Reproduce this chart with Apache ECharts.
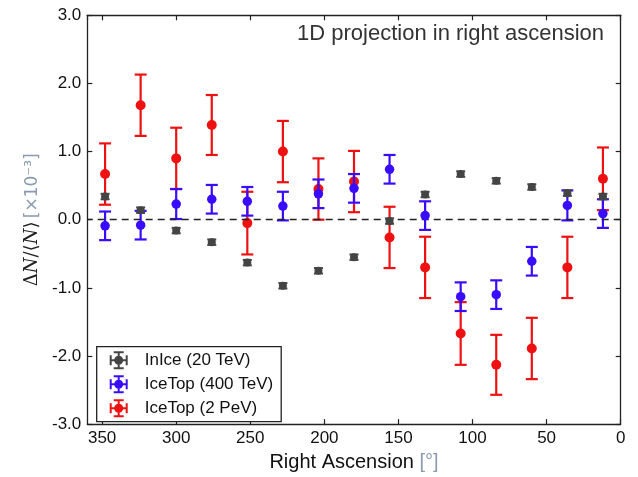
<!DOCTYPE html>
<html>
<head>
<meta charset="utf-8">
<script src="https://cdn.jsdelivr.net/npm/echarts@6/dist/echarts.min.js"></script>
<style>html,body{margin:0;padding:0;background:#fff}#c{width:638px;height:477px}</style>
</head>
<body>
<div id="c"></div>
<script>
// Right ascension bin centres (degrees)
const ra = [348, 324, 300, 276, 252, 228, 204, 180, 156, 132, 108, 84, 60, 36, 12];
// InIce (20 TeV)
const inIceVal = [0.34, 0.14, -0.16, -0.33, -0.63, -0.97, -0.75, -0.55, -0.02, 0.37, 0.67, 0.57, 0.48, 0.39, 0.34];
const inIceErr = [0.04, 0.04, 0.04, 0.04, 0.04, 0.04, 0.04, 0.04, 0.04, 0.04, 0.04, 0.04, 0.04, 0.04, 0.04];
// IceTop (400 TeV)
const it400Val = [-0.09, -0.08, 0.23, 0.30, 0.27, 0.20, 0.38, 0.46, 0.74, 0.06, -1.13, -1.10, -0.61, 0.21, 0.09];
const it400Err = [0.21, 0.21, 0.22, 0.21, 0.21, 0.21, 0.21, 0.21, 0.21, 0.21, 0.21, 0.21, 0.21, 0.22, 0.21];
// IceTop (2 PeV)
const it2Val = [0.67, 1.68, 0.90, 1.39, -0.05, 1.00, 0.45, 0.56, -0.26, -0.70, -1.67, -2.13, -1.89, -0.70, 0.60];
const it2Err = [0.45, 0.45, 0.45, 0.44, 0.46, 0.45, 0.45, 0.45, 0.45, 0.45, 0.46, 0.44, 0.45, 0.45, 0.46];
// Axis ticks
const xTicks = [0, 50, 100, 150, 200, 250, 300, 350];
const yTicks = [-3, -2, -1, 0, 1, 2, 3];

const names = ['InIce (20 TeV)', 'IceTop (400 TeV)', 'IceTop (2 PeV)'];
const colors = ['#444444', '#3a0cff', '#ee1111'];

function rows(vals, errs) { return ra.map((r, i) => [r, vals[i], errs[i]]); }

function errRender(color, capHalf, lw) {
  return function (params, api) {
    const x = api.value(0), v = api.value(1), e = api.value(2);
    const t = api.coord([x, v + e]);
    const b = api.coord([x, v - e]);
    const st = { stroke: color, lineWidth: lw };
    return {
      type: 'group',
      children: [
        { type: 'line', shape: { x1: t[0], y1: t[1], x2: b[0], y2: b[1] }, style: st },
        { type: 'line', shape: { x1: t[0] - capHalf, y1: t[1], x2: t[0] + capHalf, y2: t[1] }, style: st },
        { type: 'line', shape: { x1: b[0] - capHalf, y1: b[1], x2: b[0] + capHalf, y2: b[1] }, style: st }
      ]
    };
  };
}

const icon = 'path://M9 1H11V19H9Z M5 1H15V3H5Z M5 17H15V19H5Z M1 9H19V11H1Z M1 5H3V15H1Z M17 5H19V15H17Z M5.5 10A4.5 4.5 0 1 1 14.5 10A4.5 4.5 0 1 1 5.5 10Z';

const sets = [
  { name: names[2], color: colors[2], data: rows(it2Val, it2Err), cap: 6, lw: 2.2, size: 10 },
  { name: names[1], color: colors[1], data: rows(it400Val, it400Err), cap: 6, lw: 2.2, size: 9.5 },
  { name: names[0], color: colors[0], data: rows(inIceVal, inIceErr), cap: 4.5, lw: 2, size: 8 }
];

const series = [];
sets.forEach((s, k) => {
  series.push({
    type: 'custom', name: s.name, data: s.data, z: 2 + k * 2,
    renderItem: errRender(s.color, s.cap, s.lw),
    encode: { x: 0, y: 1 }, itemStyle: { color: s.color }, silent: true
  });
  series.push({
    type: 'scatter', name: s.name, data: s.data.map(d => [d[0], d[1]]), z: 3 + k * 2,
    symbol: 'circle', symbolSize: s.size, itemStyle: { color: s.color, opacity: 1 }, silent: true
  });
});
series[0].markLine = {
  silent: true, symbol: ['none', 'none'], label: { show: false },
  lineStyle: { color: '#222', type: [7, 5], width: 1.3 },
  data: [{ yAxis: 0 }]
};

const tickFont = { fontFamily: 'Liberation Sans', fontSize: 17, color: '#111' };
const axisLine = { show: true, onZero: false, lineStyle: { color: '#222', width: 1.3 } };
const tick = { show: true, inside: true, length: 5, lineStyle: { color: '#222', width: 1.2 } };

const option = {
  animation: false,
  backgroundColor: '#fff',
  title: {
    text: '1D projection in right ascension',
    right: 29, top: 18,
    textStyle: { fontFamily: 'Liberation Sans', fontWeight: 'normal', fontSize: 22, color: '#333' }
  },
  grid: { left: 87.3, right: 17.3, top: 15.3, bottom: 45.7, containLabel: false },
  legend: {
    orient: 'vertical', left: 96.7, top: 346.7,
    data: names.map(n => ({ name: n, icon: icon })),
    itemWidth: 18, itemHeight: 18, itemGap: 6,
    padding: [4.5, 8, 4.5, 13],
    borderColor: '#222', borderWidth: 1.3, borderRadius: 0,
    backgroundColor: '#fff',
    selectedMode: false,
    textStyle: { fontFamily: 'Liberation Sans', fontSize: 17, color: '#111', padding: [0, 0, 0, 12] }
  },
  xAxis: [{
    type: 'value', min: 0, max: 360, interval: 50, inverse: true,
    name: 'Right Ascension {g|[°]}', nameLocation: 'middle', nameGap: 22,
    nameTextStyle: {
      fontFamily: 'Liberation Sans', fontSize: 20, color: '#111',
      rich: { g: { fontFamily: 'Liberation Sans', fontSize: 20, color: '#8a9bb0' } }
    },
    axisLine: axisLine, axisTick: tick,
    axisLabel: {
      ...tickFont, margin: 6, showMaxLabel: false,
      formatter: v => (xTicks.indexOf(v) >= 0 ? String(v) : '')
    },
    splitLine: { show: false }
  }, {
    type: 'value', min: 0, max: 360, interval: 50, inverse: true, position: 'top',
    axisLine: axisLine, axisTick: tick,
    axisLabel: { show: false }, splitLine: { show: false }
  }],
  yAxis: [{
    type: 'value', min: -3, max: 3, interval: 1, position: 'left',
    name: '{a|Δ}{n|N}{a|/⟨}{n|N}{a|⟩} {g|[×10⁻³]}', nameLocation: 'middle', nameGap: 37, nameRotate: 90,
    nameTextStyle: {
      rich: {
        a: { fontFamily: 'DejaVu Serif', fontSize: 18, color: '#222' },
        n: { fontFamily: 'DejaVu Serif', fontStyle: 'italic', fontSize: 18, color: '#222' },
        g: { fontFamily: 'DejaVu Sans', fontSize: 17, color: '#8a9bb0' }
      }
    },
    axisLine: axisLine, axisTick: tick,
    axisLabel: { ...tickFont, margin: 6, formatter: v => (yTicks.indexOf(v) >= 0 ? v.toFixed(1) : '') },
    splitLine: { show: false }
  }, {
    type: 'value', min: -3, max: 3, interval: 1, position: 'right',
    axisLine: axisLine, axisTick: tick,
    axisLabel: { show: false }, splitLine: { show: false }
  }],
  series: series
};

const chart = echarts.init(document.getElementById('c'), null, { renderer: 'canvas' });
chart.setOption(option);
</script>
</body>
</html>
